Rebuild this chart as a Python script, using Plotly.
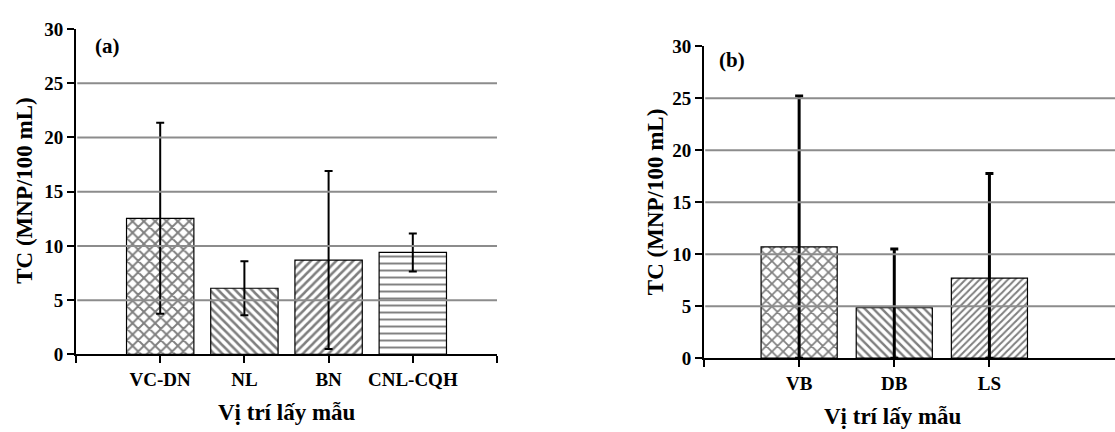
import plotly.graph_objects as go

W, H = 1115, 432

# Panel (a) data
cats_a = ["VC-DN", "NL", "BN", "CNL-CQH"]
mean_a = [12.55, 6.1, 8.7, 9.4]
sd_a = [8.8, 2.5, 8.2, 1.75]
pat_a = ["x", "\\", "/", "-"]

# Panel (b) data
cats_b = ["VB", "DB", "LS"]
mean_b = [10.7, 4.85, 7.7]
sd_b = [14.5, 5.65, 10.05]
pat_b = ["x", "\\", "/"]

yticks = [0, 5, 10, 15, 20, 25, 30]
grid_vals = [5, 10, 15, 20, 25]

FONT = "Liberation Serif, Times New Roman, serif"

def px_x(p):
    return p / W

def px_y(p):
    return 1 - p / H

def b(s):
    return f"<b>{s}</b>" if s != "" else ""

fig = go.Figure()

fig.add_trace(go.Bar(
    x=list(range(len(cats_a))), y=mean_a, width=0.8,
    marker=dict(color="rgba(0,0,0,0)", line=dict(color="black", width=1.2),
                pattern=dict(shape=pat_a, fgcolor="black", bgcolor="rgba(0,0,0,0)",
                             size=[8, 6, 6, 7], solidity=[0.42, 0.42, 0.42, 0.28])),
    error_y=dict(type="data", array=sd_a, color="black", thickness=2, width=4),
    xaxis="x", yaxis="y", showlegend=False))

minus_b = [min(s, m) for s, m in zip(sd_b, mean_b)]
fig.add_trace(go.Bar(
    x=list(range(len(cats_b))), y=mean_b, width=0.8,
    marker=dict(color="rgba(0,0,0,0)", line=dict(color="black", width=1.2),
                pattern=dict(shape=pat_b, fgcolor="black", bgcolor="rgba(0,0,0,0)",
                             size=[8, 6, 5], solidity=[0.38, 0.4, 0.4])),
    error_y=dict(type="data", symmetric=False, array=sd_b, arrayminus=minus_b,
                 color="black", thickness=3, width=4),
    xaxis="x2", yaxis="y2", showlegend=False))

tickfont_y = dict(family=FONT, size=19, color="black")
tickfont_x = dict(family=FONT, size=19, color="black")
yticktext = [b(v) for v in yticks]

fig.update_layout(
    width=W, height=H, margin=dict(l=0, r=0, t=0, b=0),
    paper_bgcolor="white", plot_bgcolor="white",
    font=dict(family=FONT),
    xaxis=dict(domain=[px_x(76), px_x(497)], range=[-1, 4], anchor="y",
               tickvals=[-1, 0, 1, 2, 3, 4], ticktext=[""] + [b(c) for c in cats_a] + [""],
               ticks="outside", ticklen=7, tickwidth=2, tickcolor="black",
               showline=True, linecolor="black", linewidth=2, showgrid=False,
               zeroline=False, tickfont=tickfont_x),
    yaxis=dict(domain=[px_y(362), px_y(20)], range=[0, 30], anchor="x",
               tickvals=yticks, ticktext=yticktext, ticks="outside", ticklen=7, tickwidth=2,
               tickcolor="black", showline=True, linecolor="black", linewidth=2, showgrid=False,
               zeroline=False, tickfont=tickfont_y),
    xaxis2=dict(domain=[px_x(704), 1.0], range=[-1, 3.32], anchor="y2",
                tickvals=[-1, 0, 1, 2], ticktext=[""] + [b(c) for c in cats_b],
                ticks="outside", ticklen=7, tickwidth=2, tickcolor="black",
                showline=True, linecolor="black", linewidth=2, showgrid=False,
                zeroline=False, tickfont=tickfont_x),
    yaxis2=dict(domain=[px_y(366), px_y(38)], range=[0, 30], anchor="x2",
                tickvals=yticks, ticktext=yticktext, ticks="outside", ticklen=7, tickwidth=2,
                tickcolor="black", showline=True, linecolor="black", linewidth=2, showgrid=False,
                zeroline=False, tickfont=tickfont_y),
    bargap=0.2,
)

shapes = []
for g in grid_vals:
    shapes.append(dict(type="line", xref="x domain", yref="y", x0=0.003, x1=1, y0=g, y1=g,
                       line=dict(color="#8c8c8c", width=2), layer="above"))
    shapes.append(dict(type="line", xref="x2 domain", yref="y2", x0=0.003, x1=1, y0=g, y1=g,
                       line=dict(color="#8c8c8c", width=2), layer="above"))
fig.update_layout(shapes=shapes)

title_font = dict(family=FONT, size=23, color="black")
label_font = dict(family=FONT, size=21, color="black")
ann = [
    dict(text=b("Vị trí lấy mẫu"), x=px_x(287), y=px_y(423), xref="paper", yref="paper",
         showarrow=False, font=title_font, xanchor="center", yanchor="middle"),
    dict(text=b("Vị trí lấy mẫu"), x=px_x(893), y=px_y(427), xref="paper", yref="paper",
         showarrow=False, font=title_font, xanchor="center", yanchor="middle"),
    dict(text=b("TC (MNP/100 mL)"), x=px_x(25), y=px_y(190), xref="paper", yref="paper",
         showarrow=False, font=title_font, textangle=-90, xanchor="center", yanchor="middle"),
    dict(text=b("TC (MNP/100 mL)"), x=px_x(655), y=px_y(202), xref="paper", yref="paper",
         showarrow=False, font=title_font, textangle=-90, xanchor="center", yanchor="middle"),
    dict(text=b("(a)"), x=px_x(107), y=px_y(38), xref="paper", yref="paper",
         showarrow=False, font=label_font, xanchor="center", yanchor="middle"),
    dict(text=b("(b)"), x=px_x(732), y=px_y(53), xref="paper", yref="paper",
         showarrow=False, font=label_font, xanchor="center", yanchor="middle"),
]
fig.update_layout(annotations=ann)

fig.write_html("out.html")
